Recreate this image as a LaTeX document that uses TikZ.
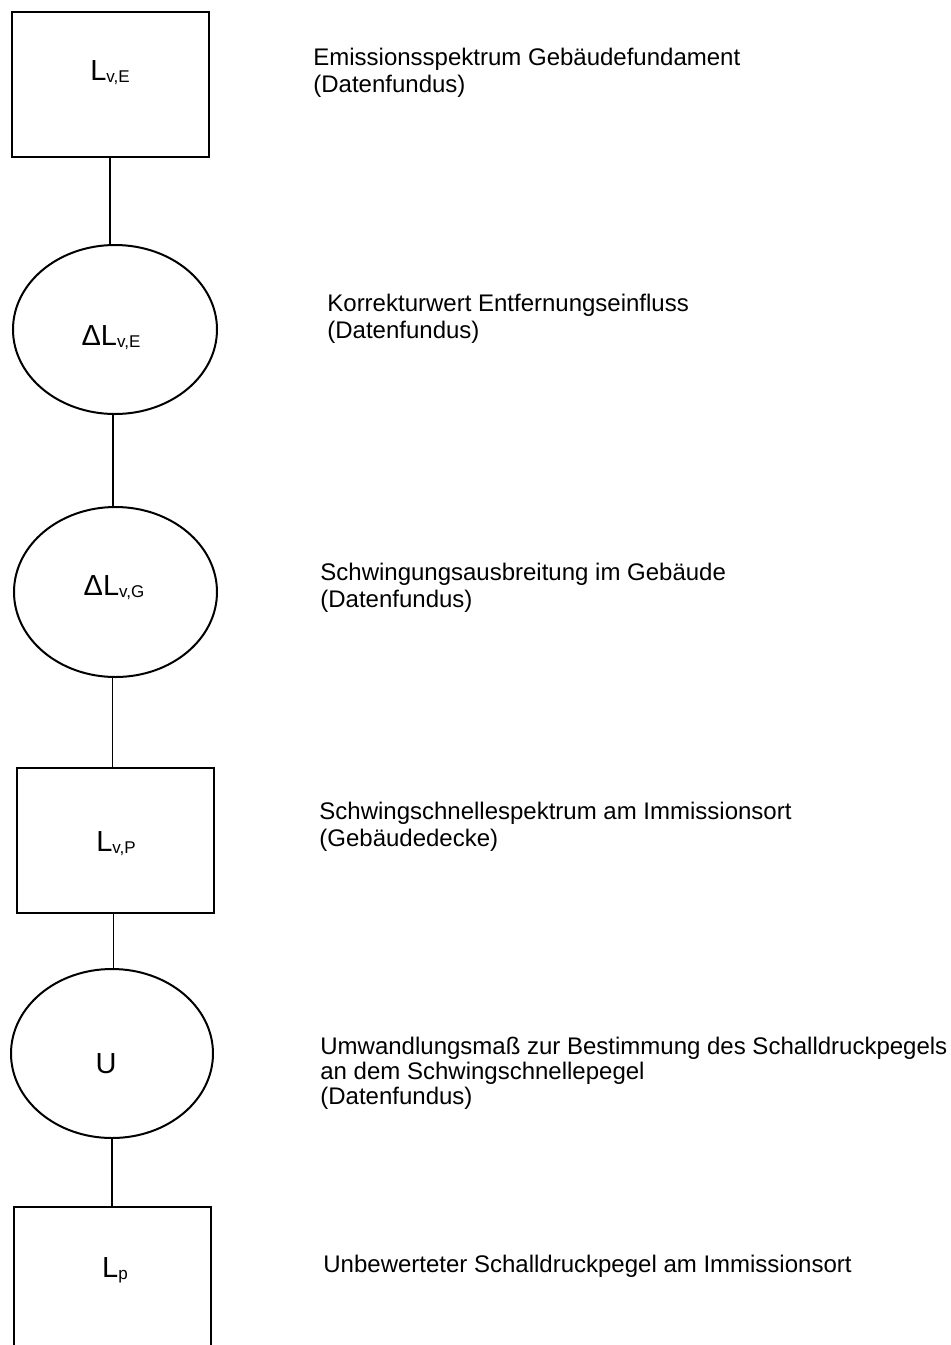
\documentclass[tikz,border=0pt]{standalone}
\usepackage{fontspec}
\setmainfont{Liberation Sans}
\usetikzlibrary{shapes.geometric}
\usetikzlibrary{positioning}
\newcommand{\subidx}[1]{\raisebox{-1pt}{\fontsize{8.5}{9}\selectfont #1}}

\begin{document}
\begin{tikzpicture}[x=0.5pt, y=-0.5pt,
        boxnode/.style={draw, line width=1pt, rectangle, minimum width=98.5pt, minimum height=72.5pt, inner sep=0pt},
        ellnode/.style={draw, line width=1pt, ellipse, minimum width=101.5pt, minimum height=85pt, inner sep=0pt},
        sym/.style={font=\fontsize{14.5}{16}\selectfont, anchor=base, inner sep=0pt},
        desc/.style={font=\fontsize{12}{13.5}\selectfont, anchor=base west, align=left, inner sep=0pt},
        link/.style={line width=0.8pt}]
        \useasboundingbox (0,0) rectangle (950,1345);
        \clip (0,0) rectangle (950,1345);

        % Emissionsspektrum
        \node[boxnode] (lve) at (110,84.5) {};
        \node[sym] (lvetxt) at (110,80) {L\subidx{v,E}};
        \node[desc] (lvedesc) at (313,92) {Emissionsspektrum Gebäudefundament\\(Datenfundus)};

        % Entfernungseinfluss
        \node[ellnode, minimum width=102pt, minimum height=84.5pt] (dlve) at (115,329.5) {};
        \node[sym] (dlvetxt) at (111,345) {ΔL\subidx{v,E}};
        \node[desc] (dlvedesc) at (327,338) {Korrekturwert Entfernungseinfluss\\(Datenfundus)};

        % Ausbreitung im Gebaeude
        \node[ellnode] (dlvg) at (115.5,592) {};
        \node[sym] (dlvgtxt) at (114,595) {ΔL\subidx{v,G}};
        \node[desc] (dlvgdesc) at (320,607) {Schwingungsausbreitung im Gebäude\\(Datenfundus)};

        % Immissionsort (Decke)
        \node[boxnode] (lvp) at (115.5,840.5) {};
        \node[sym] (lvptxt) at (116,851) {L\subidx{v,P}};
        \node[desc] (lvpdesc) at (319,846) {Schwingschnellespektrum am Immissionsort\\(Gebäudedecke)};

        % Umwandlungsmass
        \node[ellnode, minimum width=101pt, minimum height=84.5pt] (um) at (112,1053.5) {};
        \node[sym] (umtxt) at (106,1073) {U};
        \node[desc, font=\fontsize{12}{12.5}\selectfont] (umdesc) at (320,1104) {Umwandlungsmaß zur Bestimmung des Schalldruckpegels\\an dem Schwingschnellepegel\\(Datenfundus)};

        % Schalldruckpegel
        \node[boxnode] (lp) at (112.5,1279.5) {};
        \node[sym] (lptxt) at (115,1277) {L\subidx{p}};
        \node[desc] (lpdesc) at (323,1272) {Unbewerteter Schalldruckpegel am Immissionsort};

        % Verbindungen
        \draw[link] (lve.south) -- (lve.south |- dlve.north);
        \draw[link] ([xshift=-1pt]dlve.south) -- ([xshift=-1pt]dlve.south |- dlvg.north);
        \draw[link] ([xshift=-1.5pt]dlvg.south) -- ([xshift=-1.5pt]dlvg.south |- lvp.north);
        \draw[link] ([xshift=-1pt]lvp.south) -- ([xshift=-1pt]lvp.south |- um.north);
        \draw[link] (um.south) -- (um.south |- lp.north);
\end{tikzpicture}
\end{document}
